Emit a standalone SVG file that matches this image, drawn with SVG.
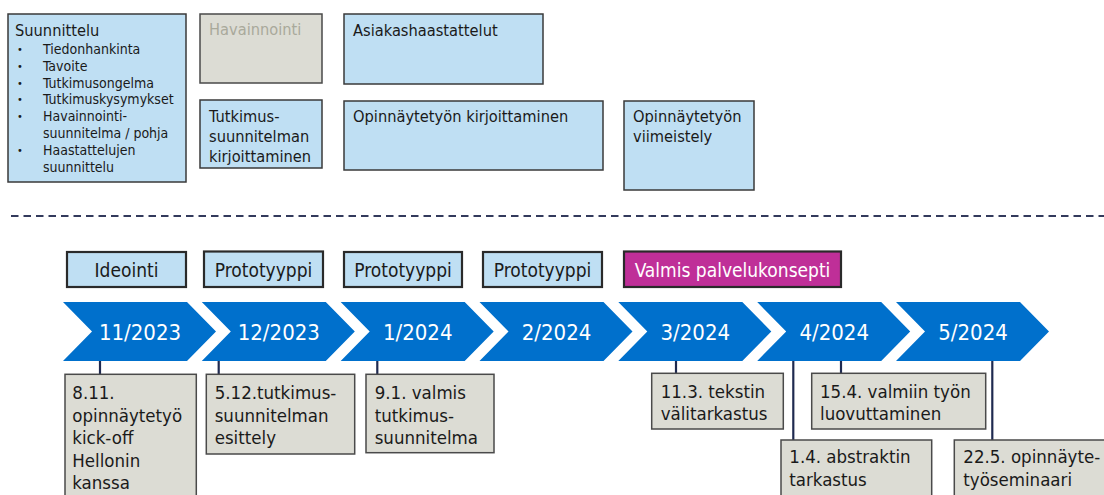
<svg xmlns="http://www.w3.org/2000/svg" width="1104" height="495" viewBox="0 0 1104 495">
  <defs>
    <style>
      text { font-family: "DejaVu Sans Condensed", "DejaVu Sans", sans-serif; font-stretch: condensed; fill: #1a1a1a; }
      .blue { fill: #bfdff3; stroke: #3a3a3a; stroke-width: 1.5; }
      .gray { fill: #dcdcd4; stroke: #4a4a4a; stroke-width: 1.5; }
      .phase { fill: #bfdff3; stroke: #2a2a2a; stroke-width: 2.2; }
      .final { fill: #bf2f98; stroke: #2a2a2a; stroke-width: 2.2; }
      .chev { fill: #0070cc; }
      .t16 { font-size: 16.3px; }
      .t14 { font-size: 14px; }
      .bul { font-size: 11px; }
      .t19 { font-size: 19px; }
      .month { font-size: 22px; fill: #ffffff; text-anchor: middle; }
      .note { font-size: 18.5px; }
      .conn { stroke: #1f2a50; stroke-width: 2.2; fill: none; }
    </style>
    <path id="chevron" d="M0,0 H124 L153,29.5 L124,59 H0 L29,29.5 Z"/>
  </defs>

  <rect width="1104" height="495" fill="#ffffff"/>

  <!-- upper activity blocks -->
  <g id="suunnittelu">
    <rect class="blue" x="8" y="14" width="178" height="168"/>
    <text class="t16" x="15" y="36">Suunnittelu</text>
    <g class="bul">
      <text x="17" y="53">•</text>
      <text x="17" y="70">•</text>
      <text x="17" y="87">•</text>
      <text x="17" y="103">•</text>
      <text x="17" y="120">•</text>
      <text x="17" y="154">•</text>
    </g>
    <g class="t14">
      <text x="43" y="54">Tiedonhankinta</text>
      <text x="43" y="71">Tavoite</text>
      <text x="43" y="88">Tutkimusongelma</text>
      <text x="43" y="104">Tutkimuskysymykset</text>
      <text x="43" y="121">Havainnointi-</text>
      <text x="43" y="138">suunnitelma / pohja</text>
      <text x="43" y="155">Haastattelujen</text>
      <text x="43" y="172">suunnittelu</text>
    </g>
  </g>
  <g id="havainnointi">
    <rect class="gray" x="200" y="14" width="122" height="69"/>
    <text class="t16" x="209" y="35" style="fill:#a9a99b">Havainnointi</text>
  </g>
  <g id="tutkimussuunnitelma">
    <rect class="blue" x="200" y="100" width="122" height="68"/>
    <text class="t16" x="209" y="122">Tutkimus-</text>
    <text class="t16" x="209" y="142">suunnitelman</text>
    <text class="t16" x="209" y="162">kirjoittaminen</text>
  </g>
  <g id="asiakashaastattelut">
    <rect class="blue" x="344" y="14" width="199" height="70"/>
    <text class="t16" x="353" y="36">Asiakashaastattelut</text>
  </g>
  <g id="kirjoittaminen">
    <rect class="blue" x="344" y="101" width="259" height="69"/>
    <text class="t16" x="353" y="122">Opinnäytetyön kirjoittaminen</text>
  </g>
  <g id="viimeistely">
    <rect class="blue" x="624" y="101" width="130" height="89"/>
    <text class="t16" x="633" y="122">Opinnäytetyön</text>
    <text class="t16" x="633" y="142">viimeistely</text>
  </g>

  <!-- divider -->
  <line x1="11" y1="216" x2="1104" y2="216" stroke="#333a5c" stroke-width="2" stroke-dasharray="7.5 5"/>

  <!-- phase labels -->
  <g id="ideointi">
    <rect class="phase" x="67" y="252" width="119" height="35"/>
    <text class="t19" x="126.5" y="277" text-anchor="middle">Ideointi</text>
  </g>
  <g id="prototyyppi-1">
    <rect class="phase" x="204" y="251.5" width="119" height="35.5"/>
    <text class="t19" x="263.5" y="277" text-anchor="middle">Prototyyppi</text>
  </g>
  <g id="prototyyppi-2">
    <rect class="phase" x="344" y="252" width="118" height="35"/>
    <text class="t19" x="403" y="277" text-anchor="middle">Prototyyppi</text>
  </g>
  <g id="prototyyppi-3">
    <rect class="phase" x="483" y="252" width="119" height="35"/>
    <text class="t19" x="542.5" y="277" text-anchor="middle">Prototyyppi</text>
  </g>
  <g id="valmis">
    <rect class="final" x="624" y="251.5" width="217" height="35.5"/>
    <text class="t19" x="732.5" y="277" text-anchor="middle" style="fill:#ffffff">Valmis palvelukonsepti</text>
  </g>

  <!-- month timeline -->
  <g id="month-11-2023"><use href="#chevron" class="chev" x="63" y="302"/><text class="month" x="140" y="339.5">11/2023</text></g>
  <g id="month-12-2023"><use href="#chevron" class="chev" x="201.8" y="302"/><text class="month" x="278.8" y="339.5">12/2023</text></g>
  <g id="month-1-2024"><use href="#chevron" class="chev" x="340.7" y="302"/><text class="month" x="417.7" y="339.5">1/2024</text></g>
  <g id="month-2-2024"><use href="#chevron" class="chev" x="479.5" y="302"/><text class="month" x="556.5" y="339.5">2/2024</text></g>
  <g id="month-3-2024"><use href="#chevron" class="chev" x="618.3" y="302"/><text class="month" x="695.3" y="339.5">3/2024</text></g>
  <g id="month-4-2024"><use href="#chevron" class="chev" x="757.2" y="302"/><text class="month" x="834.2" y="339.5">4/2024</text></g>
  <g id="month-5-2024"><use href="#chevron" class="chev" x="896" y="302"/><text class="month" x="973" y="339.5">5/2024</text></g>

  <!-- milestone leaders -->
  <g id="connectors">
    <line class="conn" x1="100" y1="361" x2="100" y2="374"/>
    <line class="conn" x1="218.7" y1="361" x2="218.7" y2="374"/>
    <line class="conn" x1="377.3" y1="361" x2="377.3" y2="374"/>
    <line class="conn" x1="676" y1="361" x2="676" y2="373"/>
    <line class="conn" x1="793.3" y1="361" x2="793.3" y2="440"/>
    <line class="conn" x1="841" y1="361" x2="841" y2="373"/>
    <line class="conn" x1="992.3" y1="361" x2="992.3" y2="440"/>
  </g>

  <!-- milestones -->
  <g id="kickoff">
    <rect class="gray" x="65" y="374.3" width="131.3" height="130"/>
    <text class="note" x="72.3" y="399">8.11.</text>
    <text class="note" x="72.3" y="421.5">opinnäytetyö</text>
    <text class="note" x="72.3" y="444">kick-off</text>
    <text class="note" x="72.3" y="466.5">Hellonin</text>
    <text class="note" x="72.3" y="489">kanssa</text>
  </g>
  <g id="esittely">
    <rect class="gray" x="206.3" y="374.3" width="148.4" height="79.7"/>
    <text class="note" x="214.7" y="399">5.12.tutkimus-</text>
    <text class="note" x="214.7" y="421.5">suunnitelman</text>
    <text class="note" x="214.7" y="444">esittely</text>
  </g>
  <g id="valmis-suunnitelma">
    <rect class="gray" x="366" y="374.3" width="128" height="78.4"/>
    <text class="note" x="374.7" y="399">9.1. valmis</text>
    <text class="note" x="374.7" y="421.5">tutkimus-</text>
    <text class="note" x="374.7" y="444">suunnitelma</text>
  </g>
  <g id="valitarkastus">
    <rect class="gray" x="651.7" y="373.3" width="131.6" height="55.7"/>
    <text class="note" x="660.7" y="397.7">11.3. tekstin</text>
    <text class="note" x="660.7" y="420">välitarkastus</text>
  </g>
  <g id="luovuttaminen">
    <rect class="gray" x="811.7" y="373.3" width="174" height="55.7"/>
    <text class="note" x="820" y="397.7">15.4. valmiin työn</text>
    <text class="note" x="820" y="420">luovuttaminen</text>
  </g>
  <g id="abstrakti">
    <rect class="gray" x="781" y="440" width="150.7" height="70"/>
    <text class="note" x="789.3" y="463.3">1.4. abstraktin</text>
    <text class="note" x="789.3" y="486">tarkastus</text>
  </g>
  <g id="seminaari">
    <rect class="gray" x="954.3" y="440" width="160" height="70"/>
    <text class="note" x="963.3" y="463.3">22.5. opinnäyte-</text>
    <text class="note" x="963.3" y="486">työseminaari</text>
  </g>
</svg>
